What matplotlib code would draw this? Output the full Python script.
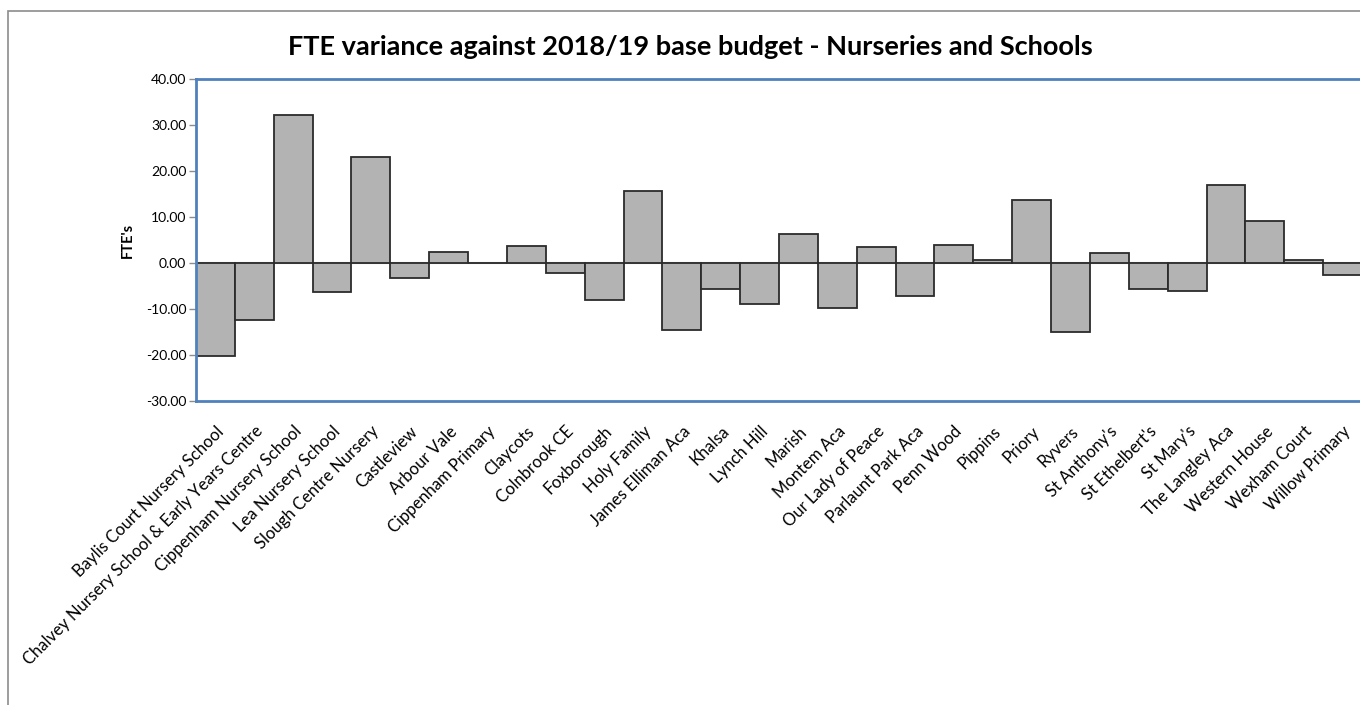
import numpy as np
import matplotlib.pyplot as plt
from matplotlib.patches import Rectangle

plt.rcParams['font.family'] = ['Lato', 'DejaVu Sans']

schools = ["Baylis Court Nursery School", "Chalvey Nursery School & Early Years Centre",
           "Cippenham Nursery School", "Lea Nursery School", "Slough Centre Nursery",
           "Castleview", "Arbour Vale", "Cippenham Primary", "Claycots", "Colnbrook CE",
           "Foxborough", "Holy Family", "James Elliman Aca", "Khalsa", "Lynch Hill",
           "Marish", "Montem Aca", "Our Lady of Peace", "Parlaunt Park Aca", "Penn Wood",
           "Pippins", "Priory", "Ryvers", "St Anthony's", "St Ethelbert's", "St Mary's",
           "The Langley Aca", "Western House", "Wexham Court", "Willow Primary"]
fte_variance = [-20.3, -12.3, 32.2, -6.3, 23.0, -3.3, 2.4, 0.0, 3.8, -2.2,
                -8.0, 15.6, -14.6, -5.7, -9.0, 6.3, -9.7, 3.5, -7.2, 3.9,
                0.6, 13.8, -14.9, 2.1, -5.7, -6.1, 16.9, 9.1, 0.6, -2.5]
yticks = [-30, -20, -10, 0, 10, 20, 30, 40]

W, H = 1360, 705
fig = plt.figure(figsize=(W / 100, H / 100), dpi=100)

# outer chart border (runs off the right and bottom of the picture)
fig.patches.append(Rectangle((8 / W, -0.1), 1.2, 1 - 11 / H + 0.1, transform=fig.transFigure,
                             fill=False, edgecolor='#8c8c8c', linewidth=1.2))

ax = fig.add_axes([196 / W, 1 - 401 / H, 1166 / W, 322 / H])
x = np.arange(len(schools))
ax.bar(x, fte_variance, width=1.0, color='#b3b3b3', edgecolor='#2b2b2b', linewidth=1.3, zorder=2)
ax.axhline(0, color='#a6a6a6', linewidth=1.5, zorder=1)

ax.set_xlim(-0.5, len(schools) - 0.5)
ax.set_ylim(-30, 40)
ax.set_yticks(yticks)
ax.set_yticklabels(["%.2f" % v for v in yticks], fontsize=10)

ax.set_xticks(x)
ax.set_xticklabels(schools, rotation=45, ha='right', rotation_mode='anchor', fontsize=12)
ax.tick_params(axis='x', length=0, pad=16)
ax.tick_params(axis='y', length=5, width=1, color='#8c8c8c', pad=2)

for side in ['left', 'top', 'bottom']:
    ax.spines[side].set_color('#4f81bd')
    ax.spines[side].set_linewidth(2)
ax.spines['right'].set_visible(False)

ax.set_ylabel("FTE's", fontsize=10.5, fontweight='bold', labelpad=8)
fig.text(690 / W, 1 - 47 / H, "FTE variance against 2018/19 base budget - Nurseries and Schools",
         ha='center', va='center', fontsize=19.5, fontweight='bold')

fig.savefig('out.png', dpi=100)
